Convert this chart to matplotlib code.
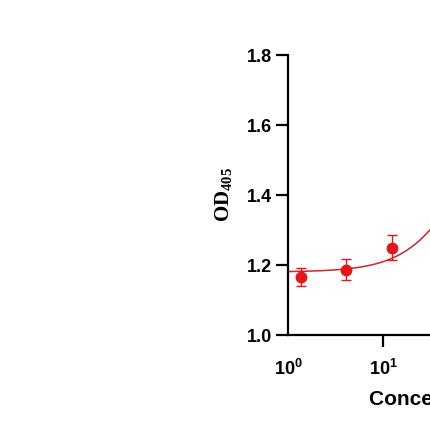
import matplotlib
matplotlib.use('Agg')
import matplotlib.pyplot as plt
import numpy as np

# data (only the first points are visible)
conc = [1.37, 4.12, 12.35]
od = [1.166, 1.186, 1.25]
od_err = [0.025, 0.03, 0.035]

# 4PL fit parameters (estimated from the drawn curve)
fit_bottom = 1.18
fit_top = 1.75
fit_ec50 = 80.0
fit_hill = 1.4

y_ticks = [1.0, 1.2, 1.4, 1.6, 1.8]
x_ticks = [1, 10, 100, 1000, 10000]

plt.rcParams['font.family'] = ['Liberation Sans', 'DejaVu Sans']
plt.rcParams['font.weight'] = 'bold'
plt.rcParams['mathtext.default'] = 'regular'

fig = plt.figure(figsize=(4.3, 4.3), dpi=100)
# axes run past the right edge of the figure, like the cropped original
ax = fig.add_axes([288/430, 95/430, 380/430, 280/430])

xx = np.logspace(0, 4, 400)
yy = fit_bottom + (fit_top - fit_bottom) / (1 + (fit_ec50 / xx) ** fit_hill)
ax.plot(xx, yy, color='#cc2233', lw=1.1, zorder=2)

ax.errorbar(conc, od, yerr=od_err, fmt='o', color='#e8141a', ecolor='#e8141a',
            markersize=7.5, elinewidth=1.0, capsize=3.8, capthick=1.0, zorder=3)

ax.set_xscale('log')
ax.set_xlim(1, 10000)
ax.set_ylim(1.0, 1.8)
ax.set_xticks(x_ticks)
ax.set_xticklabels([r'$10^{%d}$' % int(np.log10(t)) for t in x_ticks])
ax.xaxis.set_minor_locator(matplotlib.ticker.NullLocator())
ax.set_yticks(y_ticks)
ax.set_yticklabels(['%.1f' % t for t in y_ticks])

for s in ['top', 'right']:
    ax.spines[s].set_visible(False)
for s in ['left', 'bottom']:
    ax.spines[s].set_linewidth(1.6)

ax.tick_params(axis='both', width=1.6, length=8.5, labelsize=13)
ax.tick_params(axis='x', pad=9)
ax.tick_params(axis='y', pad=3)
ax.xaxis.get_major_ticks()[0].tick1line.set_visible(False)

ax.set_ylabel('OD$_{405}$', family='Liberation Serif', fontsize=15,
              fontweight='bold', labelpad=9)
ax.set_xlabel('Concentration (ng/mL)', fontsize=15, fontweight='bold',
              ha='left', va='baseline')
ax.xaxis.set_label_coords(81/380, -70/280)

fig.savefig('out.png', dpi=100)
